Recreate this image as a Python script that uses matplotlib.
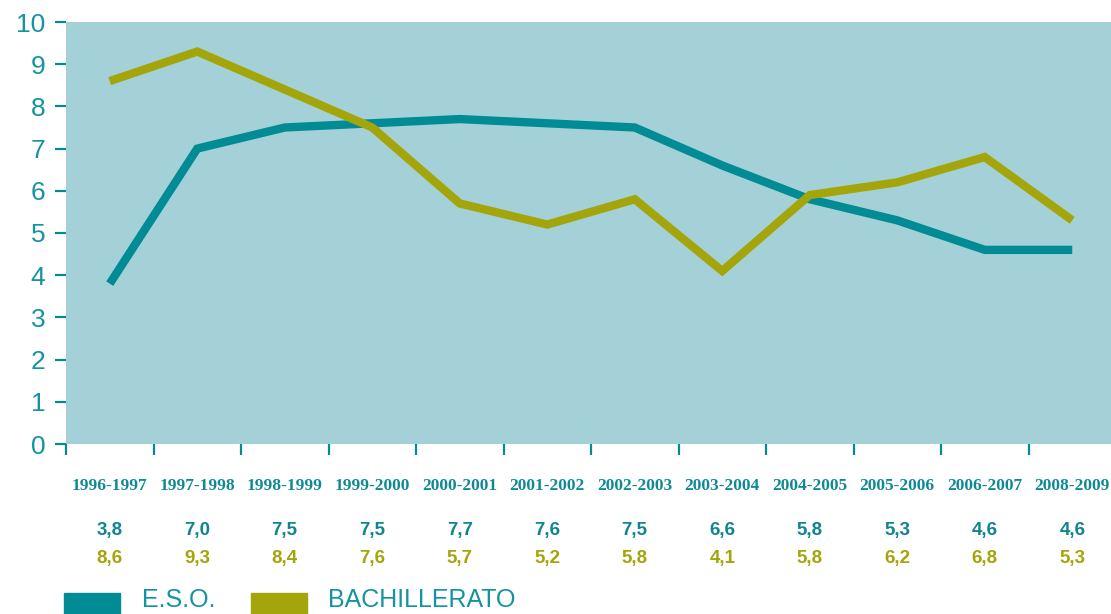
import matplotlib
matplotlib.use('Agg')
import matplotlib.pyplot as plt
from matplotlib.patches import Rectangle

# data
cursos = ['1996-1997', '1997-1998', '1998-1999', '1999-2000', '2000-2001', '2001-2002',
          '2002-2003', '2003-2004', '2004-2005', '2005-2006', '2006-2007', '2008-2009']
eso = [3.8, 7.0, 7.5, 7.6, 7.7, 7.6, 7.5, 6.6, 5.8, 5.3, 4.6, 4.6]
bach = [8.6, 9.3, 8.4, 7.5, 5.7, 5.2, 5.8, 4.1, 5.9, 6.2, 6.8, 5.3]
eso_txt = ['3,8', '7,0', '7,5', '7,5', '7,7', '7,6', '7,5', '6,6', '5,8', '5,3', '4,6', '4,6']
bach_txt = ['8,6', '9,3', '8,4', '7,6', '5,7', '5,2', '5,8', '4,1', '5,8', '6,2', '6,8', '5,3']
series = ['E.S.O.', 'BACHILLERATO']

teal = '#008b95'
olive = '#a3a50b'
fondo = '#a3d1d7'
txt_teal = '#1593a0'

W, H = 1111, 614
fig = plt.figure(figsize=(W / 100, H / 100), dpi=100)
ax = fig.add_axes([66 / W, (H - 444) / H, 1050 / W, 422 / H])
ax.set_facecolor(fondo)
for s in ax.spines.values():
    s.set_visible(False)

x = list(range(len(cursos)))
ax.plot(x, eso, color=teal, lw=6, solid_joinstyle='miter', solid_capstyle='butt', zorder=2)
ax.plot(x, bach, color=olive, lw=6, solid_joinstyle='miter', solid_capstyle='butt', zorder=3)

ax.set_xlim(-0.5, len(cursos) - 0.5)
ax.set_ylim(0, 10)
ax.set_yticks(range(0, 11))
ax.tick_params(axis='y', length=8, width=1.6, color=teal, pad=7, labelsize=19,
               labelcolor=txt_teal)
for lab in ax.get_yticklabels():
    lab.set_fontfamily('Liberation Sans')

ax.set_xticks([i - 0.5 for i in range(len(cursos))])
ax.set_xticklabels([])
ax.tick_params(axis='x', length=8, width=1.6, color=teal)

# category labels and value rows under the axis
for i, c in enumerate(cursos):
    xc = (66 + 87.5 * (i + 0.5)) / W
    fig.text(xc, 1 - 486 / H, c, ha='center', va='center',
             family='Liberation Serif', weight='bold', size=12.5, color='#0f8a94')
    fig.text(xc, 1 - 530 / H, eso_txt[i], ha='center', va='center',
             family='Liberation Sans', weight='bold', size=13.5, color='#0f8590')
    fig.text(xc, 1 - 559 / H, bach_txt[i], ha='center', va='center',
             family='Liberation Sans', weight='bold', size=13.5, color=olive)

# legend
fig.patches.append(Rectangle((64 / W, 0), 56 / W, 21 / H, transform=fig.transFigure,
                             color=teal, figure=fig))
fig.patches.append(Rectangle((251 / W, 0), 56 / W, 21 / H, transform=fig.transFigure,
                             color=olive, figure=fig))
fig.text(142 / W, 2 / H, series[0], ha='left', va='bottom', family='Liberation Sans',
         size=18, color=txt_teal)
fig.text(328 / W, 2 / H, series[1], ha='left', va='bottom', family='Liberation Sans',
         size=18, color=txt_teal)

fig.savefig('out.png', dpi=100)
